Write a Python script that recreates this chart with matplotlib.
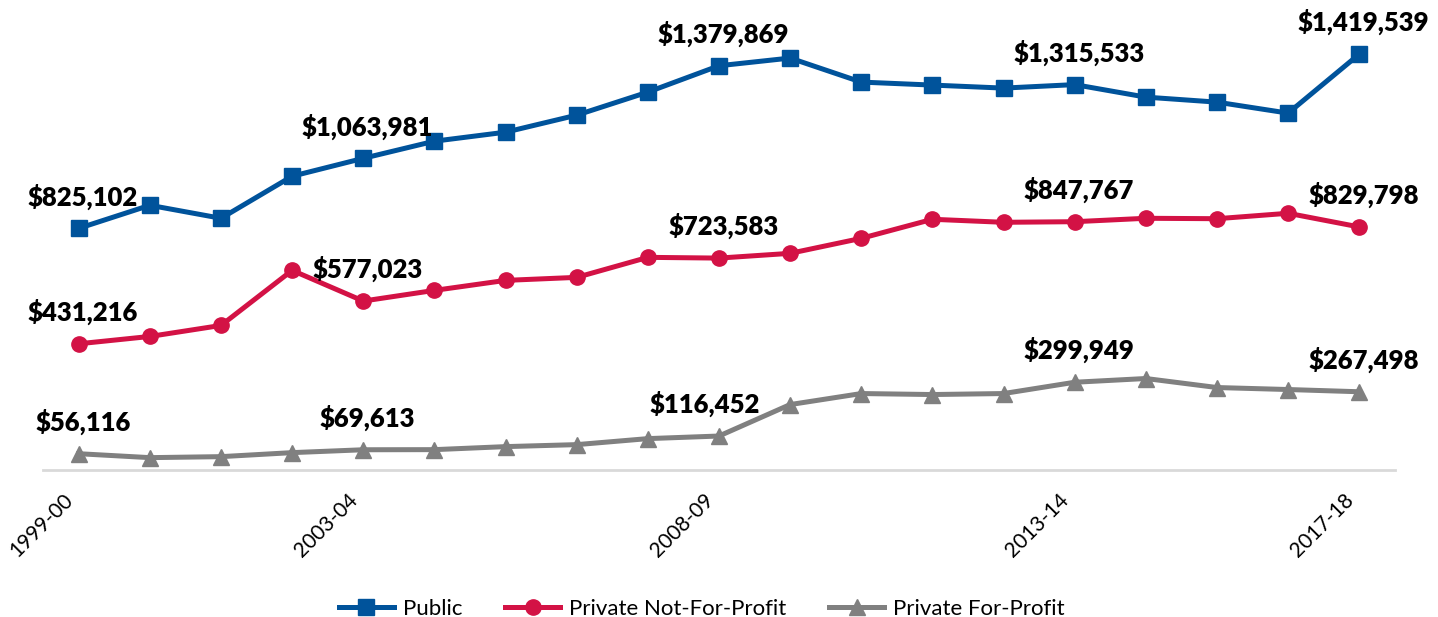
import matplotlib.pyplot as plt
import matplotlib.transforms as mtransforms

years = ['1999-00', '2000-01', '2001-02', '2002-03', '2003-04', '2004-05', '2005-06',
         '2006-07', '2007-08', '2008-09', '2009-10', '2010-11', '2011-12', '2012-13',
         '2013-14', '2014-15', '2015-16', '2016-17', '2017-18']

public = [825102, 903800, 859400, 1002900, 1063981, 1122500, 1153200, 1211300, 1289900,
          1379869, 1406100, 1324100, 1313900, 1303600, 1315533, 1272800, 1255700,
          1218200, 1419539]
nonprofit = [431216, 456200, 493800, 681700, 577023, 613400, 647500, 657800, 726100,
             723583, 739800, 791000, 856000, 845700, 847767, 859400, 858000, 876500,
             829798]
forprofit = [56116, 42700, 46100, 59800, 69613, 70000, 80300, 87100, 107600, 116452,
             223800, 261400, 258000, 261400, 299949, 312700, 281900, 275100, 267498]

tick_idx = [0, 4, 9, 14, 18]
label_idx = [0, 4, 9, 14, 18]

plt.rcParams['font.family'] = ['Lato', 'DejaVu Sans']

fig = plt.figure(figsize=(14.38, 6.17), dpi=100)
ax = fig.add_axes([0.030, 0.238, 0.940, 0.76])

x = list(range(len(years)))
series = [
    ('Public', public, '#00539B', 's', 11),
    ('Private Not-For-Profit', nonprofit, '#D31245', 'o', 11),
    ('Private For-Profit', forprofit, '#808080', '^', 11),
]
for name, vals, color, marker, ms in series:
    ax.plot(x, vals, color=color, lw=3.6, marker=marker, markersize=ms, label=name,
            clip_on=False)
    for i in label_idx:
        dx = -10 if (vals is forprofit and i == 9) else 3
        ax.annotate(f'${vals[i]:,}', (i, vals[i]), xytext=(dx, 23),
                    textcoords='offset points', ha='center', va='center',
                    fontsize=18.5, fontweight='heavy', color='black')

ax.set_xlim(-0.5, 18.5)
ax.set_ylim(0, 1600000)
ax.set_xticks(tick_idx)
ax.set_xticklabels([years[i] for i in tick_idx], rotation=45, ha='right',
                   rotation_mode='anchor', fontsize=15)
ax.tick_params(axis='x', length=0, pad=14)
shift = mtransforms.ScaledTranslation(-16 / 100, 0, fig.dpi_scale_trans)
for lab in ax.get_xticklabels():
    lab.set_transform(lab.get_transform() + shift)
ax.set_yticks([])
for s in ['top', 'right', 'left']:
    ax.spines[s].set_visible(False)
ax.spines['bottom'].set_color('#D9D9D9')
ax.spines['bottom'].set_linewidth(2)

fig.legend(loc='lower center', bbox_to_anchor=(0.488, -0.035), ncol=3, frameon=False,
           fontsize=16, handlelength=2.5, handletextpad=0.4, columnspacing=1.9)

fig.savefig('out.png', dpi=100)
